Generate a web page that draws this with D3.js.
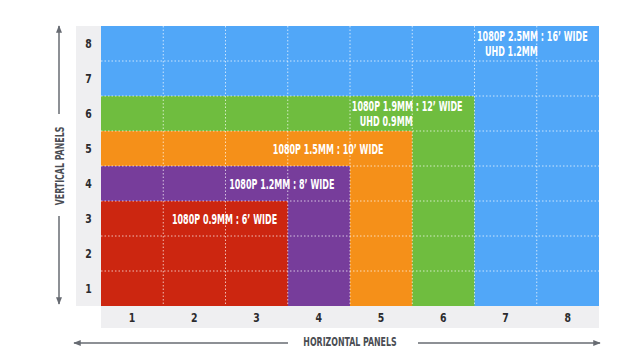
<!DOCTYPE html>
<html>
<head>
<meta charset="utf-8">
<script src="https://cdn.jsdelivr.net/npm/d3@7"></script>
<style>
  body { margin: 0; background: #ffffff; }
  svg { display: block; }
  text { font-family: "DejaVu Sans Condensed", "Liberation Sans Narrow", "Roboto", sans-serif; font-stretch: condensed; font-weight: bold; }
</style>
</head>
<body>
<div id="my_dataviz"></div>
<script>
// panel counts on each axis
var columns = [1, 2, 3, 4, 5, 6, 7, 8]
var rows = [1, 2, 3, 4, 5, 6, 7, 8]

// nested screen sizes, biggest first (in panels)
var sizeWide = [8, 6, 5, 4, 3]
var sizeHigh = [8, 6, 5, 4, 3]
var sizeColors = ["#51a7f8", "#6fbd3f", "#f59019", "#773d9b", "#cc2610"]
var sizeLine1 = ["1080P 2.5MM : 16\u2019 WIDE", "1080P 1.9MM : 12\u2019 WIDE", "1080P 1.5MM : 10\u2019 WIDE", "1080P 1.2MM : 8\u2019 WIDE", "1080P 0.9MM : 6\u2019 WIDE"]
var sizeLine2 = ["UHD 1.2MM", "UHD 0.9MM", "", "", ""]
// where the label starts, in panel units from the left edge
var labelAt = [6.04, 4.03, 2.76, 2.06, 1.14]

var W = 640, H = 360
var padL = 101, padR = 599, padT = 26, padB = 306
var squeeze = 0.66   // the source font is a narrow DIN-like face

var svg = d3.select("#my_dataviz").append("svg").attr("width", W).attr("height", H)

var xs = d3.scaleLinear().domain([0, columns.length]).range([padL, padR])
var ys = d3.scaleLinear().domain([0, rows.length]).range([padB, padT])

// gray axis strips
svg.append("rect").attr("x", 76).attr("y", padT).attr("width", padL - 76).attr("height", padB - padT).attr("fill", "#efeff1")
svg.append("rect").attr("x", padL).attr("y", padB).attr("width", padR - padL).attr("height", 22).attr("fill", "#efeff1")

var blocks = sizeWide.map(function (d, i) {
  return { w: d, h: sizeHigh[i], color: sizeColors[i], l1: sizeLine1[i], l2: sizeLine2[i], lx: labelAt[i] }
})

svg.append("g").selectAll("rect")
  .data(blocks)
  .enter()
  .append("rect")
  .attr("x", xs(0))
  .attr("y", d => ys(d.h))
  .attr("width", d => xs(d.w) - xs(0))
  .attr("height", d => ys(0) - ys(d.h))
  .attr("fill", d => d.color)

// dotted grid
var grid = svg.append("g").attr("stroke", "#ffffff").attr("stroke-opacity", 0.7).attr("stroke-width", 1).attr("stroke-dasharray", "1.5,2")
grid.selectAll(".vl").data(columns.slice(0, -1)).enter().append("line")
  .attr("x1", d => xs(d)).attr("x2", d => xs(d)).attr("y1", padT).attr("y2", padB)
grid.selectAll(".hl").data(rows.slice(0, -1)).enter().append("line")
  .attr("x1", padL).attr("x2", padR).attr("y1", d => ys(d)).attr("y2", d => ys(d))

// tick labels
svg.append("g").selectAll("text")
  .data(columns)
  .enter()
  .append("text")
  .attr("transform", d => "translate(" + xs(d - 0.5) + "," + (padB + 11) + ") scale(0.8,1)")
  .attr("dy", "0.35em")
  .attr("text-anchor", "middle")
  .style("font-size", "13px")
  .attr("fill", "#2b2b2e")
  .text(d => d)

svg.append("g").selectAll("text")
  .data(rows)
  .enter()
  .append("text")
  .attr("transform", d => "translate(88.5," + ys(d - 0.5) + ") scale(0.8,1)")
  .attr("dy", "0.35em")
  .attr("text-anchor", "middle")
  .style("font-size", "13px")
  .attr("fill", "#2b2b2e")
  .text(d => d)

// block labels
var labels = svg.append("g").selectAll("text")
  .data(blocks)
  .enter()
  .append("text")
  .attr("transform", d => "translate(" + xs(d.lx) + "," + ys(d.h - 0.5) + ") scale(" + squeeze + ",1)")
  .attr("fill", "#ffffff")
  .style("font-size", "13.5px")

labels.append("tspan")
  .attr("x", 0)
  .attr("y", d => d.l2 ? -7 : 1)
  .attr("dy", "0.35em")
  .text(d => d.l1)

labels.filter(d => d.l2).append("tspan")
  .attr("x", 8 / squeeze)
  .attr("y", 8)
  .attr("dy", "0.35em")
  .text(d => d.l2)

// axis titles and arrows
var arrowCol = "#676b72"
var defs = svg.append("defs")
defs.append("marker")
  .attr("id", "head")
  .attr("viewBox", "0 0 10 10")
  .attr("refX", 9).attr("refY", 5)
  .attr("markerWidth", 5).attr("markerHeight", 5)
  .attr("orient", "auto-start-reverse")
  .append("path").attr("d", "M0,1 L10,5 L0,9 Z").attr("fill", arrowCol)

var ax = svg.append("g").attr("stroke", arrowCol).attr("stroke-width", 1.5)
ax.append("line").attr("x1", 59).attr("x2", 59).attr("y1", 114).attr("y2", 26).attr("marker-end", "url(#head)")
ax.append("line").attr("x1", 59).attr("x2", 59).attr("y1", 216).attr("y2", 304).attr("marker-end", "url(#head)")
ax.append("line").attr("x1", 288).attr("x2", 74).attr("y1", 343).attr("y2", 343).attr("marker-end", "url(#head)")
ax.append("line").attr("x1", 418).attr("x2", 600).attr("y1", 343).attr("y2", 343).attr("marker-end", "url(#head)")

svg.append("text")
  .attr("transform", "translate(60,166) rotate(-90) scale(0.7,1)")
  .attr("dy", "0.35em")
  .attr("text-anchor", "middle")
  .style("font-size", "12.5px")
  .attr("fill", "#4a4d53")
  .text("VERTICAL PANELS")

svg.append("text")
  .attr("transform", "translate(350,342) scale(0.7,1)")
  .attr("dy", "0.35em")
  .attr("text-anchor", "middle")
  .style("font-size", "12.5px")
  .attr("fill", "#4a4d53")
  .text("HORIZONTAL PANELS")
</script>
</body>
</html>
